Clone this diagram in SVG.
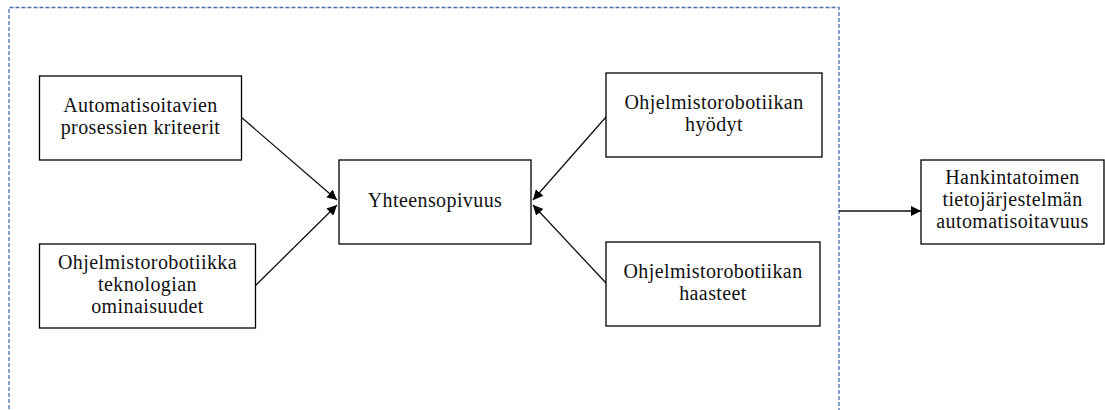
<svg xmlns="http://www.w3.org/2000/svg" width="1105" height="410" viewBox="0 0 1105 410">
  <style>
    .box { fill: #ffffff; stroke: #000000; stroke-width: 1.3; }
    .lbl { font-family: "Liberation Serif", "DejaVu Serif", "Times New Roman", serif; font-size: 20px; letter-spacing: 0.4px; fill: #111111; text-anchor: middle; }
    .conn { stroke: #111111; stroke-width: 1.3; fill: none; marker-end: url(#arrow); }
    .frame { fill: none; stroke: #4a6cb0; stroke-width: 1.3; stroke-dasharray: 4 2; }
  </style>
  <defs>
    <marker id="arrow" viewBox="0 0 10 10" refX="10" refY="5" markerWidth="10" markerHeight="10" markerUnits="userSpaceOnUse" orient="auto">
      <path d="M0,0 L10,5 L0,10 z" fill="#000000"/>
    </marker>
  </defs>
  <rect width="1105" height="410" fill="#ffffff"/>

  <!-- dashed boundary around the compatibility model -->
  <path class="frame" d="M9,415 L9,7.5 L839,7.5 L839,415"/>

  <g id="connectors">
    <line class="conn" x1="241" y1="117" x2="337" y2="200"/>
    <line class="conn" x1="255" y1="286" x2="337" y2="205"/>
    <line class="conn" x1="606" y1="117" x2="533" y2="200"/>
    <line class="conn" x1="606" y1="283" x2="533" y2="205"/>
    <line class="conn" x1="839" y1="211" x2="921" y2="211"/>
  </g>

  <g id="node-kriteerit">
    <rect class="box" x="39.5" y="76" width="202" height="84"/>
    <text class="lbl" x="140.5" y="111.5">Automatisoitavien</text>
    <text class="lbl" x="140.5" y="133.5">prosessien kriteerit</text>
  </g>

  <g id="node-ominaisuudet">
    <rect class="box" x="39.5" y="244" width="216" height="84"/>
    <text class="lbl" x="147.5" y="268.5">Ohjelmistorobotiikka</text>
    <text class="lbl" x="147.5" y="290.5">teknologian</text>
    <text class="lbl" x="147.5" y="312.5">ominaisuudet</text>
  </g>

  <g id="node-yhteensopivuus">
    <rect class="box" x="339" y="160" width="192" height="84"/>
    <text class="lbl" x="435" y="206.5">Yhteensopivuus</text>
  </g>

  <g id="node-hyodyt">
    <rect class="box" x="606" y="73" width="216" height="84"/>
    <text class="lbl" x="714" y="108.5">Ohjelmistorobotiikan</text>
    <text class="lbl" x="714" y="130.5">hyödyt</text>
  </g>

  <g id="node-haasteet">
    <rect class="box" x="606" y="242" width="214" height="84"/>
    <text class="lbl" x="713" y="277.5">Ohjelmistorobotiikan</text>
    <text class="lbl" x="713" y="299.5">haasteet</text>
  </g>

  <g id="node-automatisoitavuus">
    <rect class="box" x="921" y="160" width="183" height="84"/>
    <text class="lbl" x="1012.5" y="184">Hankintatoimen</text>
    <text class="lbl" x="1012.5" y="206">tietojärjestelmän</text>
    <text class="lbl" x="1012.5" y="228">automatisoitavuus</text>
  </g>
</svg>
